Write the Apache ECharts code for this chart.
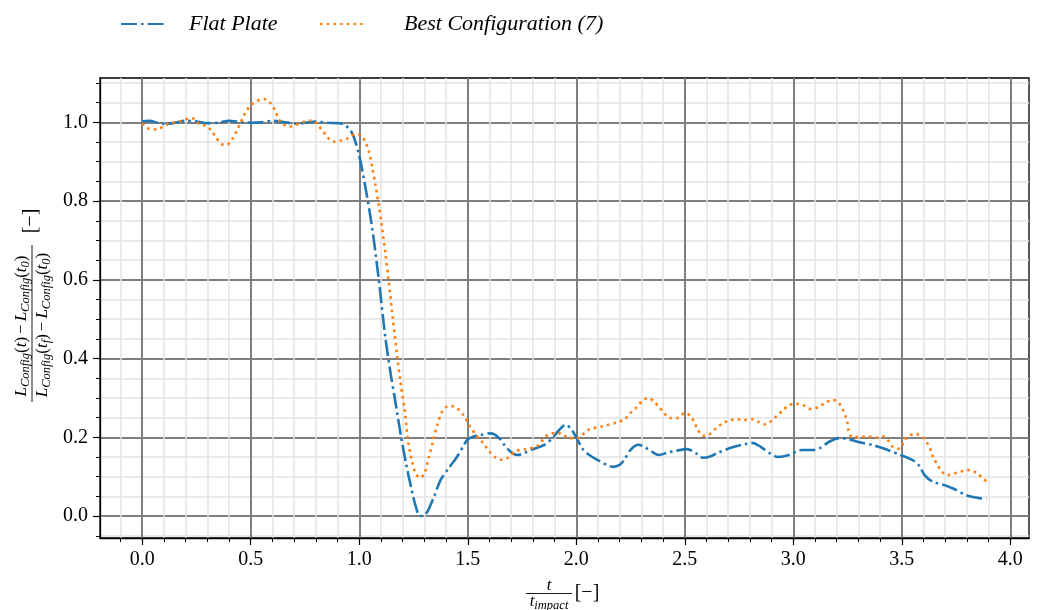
<!DOCTYPE html>
<html>
<head>
<meta charset="utf-8">
<script src="https://cdn.jsdelivr.net/npm/echarts@6/dist/echarts.min.js"></script>
<style>
  html, body { margin: 0; padding: 0; background: #fff; }
  #chart { width: 1037px; height: 610px; }
</style>
</head>
<body>
<div id="chart"></div>
<script>
// Normalised lift histories against non-dimensional time t / t_impact
const tFlat = [0.00, 0.035, 0.07, 0.11, 0.15, 0.20, 0.25, 0.30, 0.35, 0.40, 0.45, 0.50, 0.55, 0.60, 0.65, 0.70, 0.75, 0.80, 0.85, 0.90, 0.93, 0.95, 0.97, 1.00, 1.03, 1.06, 1.09, 1.12, 1.145, 1.165, 1.19, 1.215, 1.24, 1.26, 1.28, 1.30, 1.315, 1.345, 1.375, 1.41, 1.45, 1.48, 1.50, 1.53, 1.56, 1.60, 1.625, 1.65, 1.67, 1.70, 1.73, 1.76, 1.79, 1.85, 1.89, 1.92, 1.95, 1.975, 2.00, 2.03, 2.06, 2.10, 2.14, 2.17, 2.20, 2.22, 2.25, 2.285, 2.31, 2.35, 2.38, 2.42, 2.46, 2.51, 2.55, 2.585, 2.62, 2.65, 2.72, 2.78, 2.81, 2.85, 2.89, 2.93, 2.98, 3.04, 3.09, 3.12, 3.17, 3.214, 3.25, 3.30, 3.37, 3.43, 3.49, 3.55, 3.58, 3.605, 3.643, 3.70, 3.736, 3.797, 3.84, 3.866, 3.89];
const vFlat = [1.003, 1.004, 0.999, 0.996, 0.999, 1.004, 1.002, 0.998, 0.999, 1.004, 1.001, 0.999, 1.000, 1.004, 1.001, 0.997, 0.999, 1.002, 0.999, 0.998, 0.995, 0.985, 0.970, 0.915, 0.830, 0.730, 0.600, 0.455, 0.360, 0.295, 0.210, 0.135, 0.070, 0.025, 0.000, 0.003, 0.012, 0.050, 0.092, 0.120, 0.150, 0.178, 0.195, 0.203, 0.206, 0.210, 0.207, 0.195, 0.180, 0.162, 0.155, 0.160, 0.168, 0.180, 0.198, 0.218, 0.232, 0.222, 0.200, 0.170, 0.155, 0.142, 0.130, 0.125, 0.130, 0.142, 0.168, 0.181, 0.177, 0.163, 0.155, 0.161, 0.166, 0.170, 0.160, 0.148, 0.152, 0.160, 0.175, 0.183, 0.186, 0.176, 0.160, 0.150, 0.155, 0.168, 0.168, 0.172, 0.190, 0.198, 0.196, 0.188, 0.180, 0.169, 0.156, 0.142, 0.128, 0.104, 0.087, 0.078, 0.070, 0.053, 0.047, 0.045, 0.043];

const tBest = [0.00, 0.03, 0.07, 0.10, 0.14, 0.17, 0.21, 0.235, 0.26, 0.295, 0.32, 0.34, 0.365, 0.39, 0.415, 0.435, 0.45, 0.465, 0.48, 0.505, 0.535, 0.565, 0.595, 0.613, 0.628, 0.65, 0.68, 0.715, 0.75, 0.785, 0.81, 0.835, 0.855, 0.88, 0.915, 0.95, 0.98, 1.01, 1.03, 1.045, 1.06, 1.075, 1.09, 1.10, 1.12, 1.135, 1.155, 1.175, 1.19, 1.21, 1.225, 1.245, 1.26, 1.28, 1.30, 1.32, 1.34, 1.36, 1.38, 1.40, 1.42, 1.45, 1.48, 1.51, 1.535, 1.57, 1.60, 1.63, 1.66, 1.69, 1.72, 1.77, 1.82, 1.865, 1.90, 1.935, 1.965, 2.005, 2.055, 2.12, 2.19, 2.225, 2.25, 2.275, 2.30, 2.33, 2.36, 2.38, 2.405, 2.43, 2.465, 2.50, 2.525, 2.545, 2.56, 2.585, 2.61, 2.64, 2.67, 2.70, 2.74, 2.77, 2.81, 2.84, 2.87, 2.90, 2.925, 2.955, 2.98, 3.015, 3.045, 3.08, 3.115, 3.145, 3.18, 3.205, 3.225, 3.24, 3.25, 3.255, 3.27, 3.31, 3.345, 3.38, 3.415, 3.44, 3.46, 3.49, 3.51, 3.53, 3.56, 3.60, 3.62, 3.635, 3.645, 3.665, 3.68, 3.71, 3.745, 3.785, 3.815, 3.85, 3.875, 3.89];
const vBest = [0.997, 0.984, 0.982, 0.991, 0.999, 1.002, 1.009, 1.010, 0.997, 0.991, 0.978, 0.962, 0.945, 0.943, 0.958, 0.978, 0.996, 1.013, 1.029, 1.046, 1.056, 1.059, 1.046, 1.029, 1.009, 0.995, 0.989, 0.995, 1.002, 1.005, 0.992, 0.976, 0.961, 0.951, 0.954, 0.960, 0.970, 0.966, 0.948, 0.925, 0.885, 0.840, 0.790, 0.753, 0.670, 0.600, 0.500, 0.405, 0.340, 0.265, 0.190, 0.135, 0.108, 0.097, 0.108, 0.148, 0.190, 0.232, 0.263, 0.277, 0.280, 0.274, 0.257, 0.228, 0.208, 0.186, 0.164, 0.148, 0.143, 0.150, 0.165, 0.170, 0.178, 0.205, 0.211, 0.209, 0.198, 0.198, 0.219, 0.228, 0.238, 0.247, 0.262, 0.275, 0.290, 0.300, 0.290, 0.277, 0.262, 0.249, 0.249, 0.262, 0.255, 0.237, 0.219, 0.204, 0.206, 0.221, 0.234, 0.242, 0.246, 0.244, 0.246, 0.239, 0.233, 0.242, 0.255, 0.270, 0.282, 0.285, 0.282, 0.272, 0.277, 0.287, 0.295, 0.290, 0.274, 0.255, 0.235, 0.216, 0.201, 0.201, 0.202, 0.199, 0.202, 0.190, 0.175, 0.171, 0.189, 0.203, 0.209, 0.198, 0.183, 0.165, 0.148, 0.130, 0.115, 0.104, 0.109, 0.115, 0.117, 0.107, 0.095, 0.088];

// Tick positions
const xMajorTicks = [0.0, 0.5, 1.0, 1.5, 2.0, 2.5, 3.0, 3.5, 4.0];
const xMinorTicks = [-0.1, 0.1, 0.2, 0.3, 0.4, 0.6, 0.7, 0.8, 0.9, 1.1, 1.2, 1.3, 1.4, 1.6, 1.7, 1.8, 1.9, 2.1, 2.2, 2.3, 2.4, 2.6, 2.7, 2.8, 2.9, 3.1, 3.2, 3.3, 3.4, 3.6, 3.7, 3.8, 3.9];
const yMajorTicks = [0.0, 0.2, 0.4, 0.6, 0.8, 1.0];
const yMinorTicks = [-0.05, 0.05, 0.1, 0.15, 0.25, 0.3, 0.35, 0.45, 0.5, 0.55, 0.65, 0.7, 0.75, 0.85, 0.9, 0.95, 1.05, 1.1];

// Axis ranges (data span plus 5 % margins)
const xRange = [-0.1946, 4.086];
const yRange = [-0.0557, 1.1127];

const seriesNames = ['Flat Plate', 'Best Configuration (7)'];
const seriesColors = ['#1f77b4', '#ff7f0e'];

const SERIF = '"Liberation Serif", "DejaVu Serif", serif';

function pairs(ts, vs) { return ts.map((t, i) => [t, vs[i]]); }

const chart = echarts.init(document.getElementById('chart'), null, { renderer: 'canvas' });

const majorAxisCommon = {
  type: 'value',
  axisLine: { show: true, onZero: false, lineStyle: { color: '#000', width: 1.3 } },
  axisTick: { show: true, length: 7, lineStyle: { color: '#000', width: 1.2 } },
  axisLabel: { color: '#000', fontFamily: SERIF, fontSize: 20, formatter: v => v.toFixed(1) },
  splitLine: { show: true, lineStyle: { color: '#7f7f7f', width: 2 } },
  minorTick: { show: false },
  minorSplitLine: { show: false }
};
const minorAxisCommon = {
  type: 'value',
  axisLine: { show: false, onZero: false },
  axisTick: { show: true, length: 4, lineStyle: { color: '#000', width: 1 } },
  axisLabel: { show: false },
  splitLine: { show: true, lineStyle: { color: '#e3e3e3', width: 1.5 } },
  minorTick: { show: false },
  minorSplitLine: { show: false }
};

const richY = {
  m: { fontFamily: SERIF, fontStyle: 'italic', fontSize: 17, lineHeight: 21, fill: '#000' },
  u: { fontFamily: SERIF, fontSize: 17, lineHeight: 21, fill: '#000' },
  op: { fontFamily: SERIF, fontSize: 17, lineHeight: 21, fill: '#000', padding: [0, 3, 0, 3] },
  s: { fontFamily: SERIF, fontStyle: 'italic', fontSize: 12.5, lineHeight: 13, verticalAlign: 'bottom', fill: '#000' }
};

const legendText = { fontFamily: SERIF, fontStyle: 'italic', fontSize: 22, color: '#000' };

chart.setOption({
  animation: false,
  backgroundColor: '#fff',
  grid: { left: 100, right: 8, top: 78, bottom: 72, show: true, borderColor: '#000', borderWidth: 1.3, containLabel: false },
  legend: [
    {
      data: [seriesNames[0]], left: 120, top: 13, padding: 0, itemWidth: 43, itemHeight: 16,
      itemStyle: { opacity: 0 },
      textStyle: Object.assign({ padding: [0, 0, 0, 20] }, legendText)
    },
    {
      data: [seriesNames[1]], left: 319, top: 13, padding: 0, itemWidth: 43, itemHeight: 16,
      itemStyle: { opacity: 0 },
      textStyle: Object.assign({ padding: [0, 0, 0, 36] }, legendText)
    }
  ],
  xAxis: [
    Object.assign({}, majorAxisCommon, {
      min: xRange[0], max: xRange[1], position: 'bottom',
      axisTick: Object.assign({}, majorAxisCommon.axisTick, { customValues: xMajorTicks }),
      axisLabel: Object.assign({}, majorAxisCommon.axisLabel, { customValues: xMajorTicks, margin: 12 })
    }),
    Object.assign({}, minorAxisCommon, {
      min: xRange[0], max: xRange[1], position: 'bottom',
      axisTick: Object.assign({}, minorAxisCommon.axisTick, { customValues: xMinorTicks })
    })
  ],
  yAxis: [
    Object.assign({}, majorAxisCommon, {
      min: yRange[0], max: yRange[1], position: 'left',
      axisTick: Object.assign({}, majorAxisCommon.axisTick, { customValues: yMajorTicks }),
      axisLabel: Object.assign({}, majorAxisCommon.axisLabel, { customValues: yMajorTicks, margin: 12 })
    }),
    Object.assign({}, minorAxisCommon, {
      min: yRange[0], max: yRange[1], position: 'left',
      axisTick: Object.assign({}, minorAxisCommon.axisTick, { customValues: yMinorTicks })
    })
  ],
  series: [
    {
      name: seriesNames[0], type: 'line', xAxisIndex: 0, yAxisIndex: 0,
      data: pairs(tFlat, vFlat), showSymbol: false, symbol: 'none', smooth: 0.3, z: 3,
      itemStyle: { color: seriesColors[0] },
      lineStyle: { color: seriesColors[0], width: 2.6, type: [16, 4, 2.6, 4], cap: 'butt' }
    },
    {
      name: seriesNames[1], type: 'line', xAxisIndex: 0, yAxisIndex: 0,
      data: pairs(tBest, vBest), showSymbol: false, symbol: 'none', smooth: 0.3, z: 4,
      itemStyle: { color: seriesColors[1] },
      lineStyle: { color: seriesColors[1], width: 2.6, type: [2.6, 4.1], cap: 'butt' }
    }
  ],
  graphic: [
    // y-axis title: fraction of lift differences, written bottom to top
    {
      type: 'group', x: 32, y: 305, rotation: Math.PI / 2, silent: true,
      children: [
        {
          type: 'text', x: -21, y: -10,
          style: {
            text: '{m|L}{s|Config}{u|(}{m|t}{u|)}{op|−}{m|L}{s|Config}{u|(}{m|t}{s|0}{u|)}',
            rich: richY, align: 'center', verticalAlign: 'middle'
          }
        },
        { type: 'line', shape: { x1: -97, y1: 0, x2: 60, y2: 0 }, style: { stroke: '#000', lineWidth: 0.9 } },
        {
          type: 'text', x: -20, y: 11,
          style: {
            text: '{m|L}{s|Config}{u|(}{m|t}{s|f}{u|)}{op|−}{m|L}{s|Config}{u|(}{m|t}{s|0}{u|)}',
            rich: richY, align: 'center', verticalAlign: 'middle'
          }
        },
        {
          type: 'text', x: 84, y: -1,
          style: { text: '[−]', fontFamily: SERIF, fontSize: 20, fill: '#000', align: 'center', verticalAlign: 'middle' }
        }
      ]
    },
    // x-axis title: t / t_impact [−]
    {
      type: 'text', x: 549, y: 586, silent: true,
      style: { text: 't', fontFamily: SERIF, fontStyle: 'italic', fontSize: 17, fill: '#000', align: 'center', verticalAlign: 'middle' }
    },
    { type: 'line', silent: true, shape: { x1: 526, y1: 593.5, x2: 572, y2: 593.5 }, style: { stroke: '#000', lineWidth: 0.9 } },
    {
      type: 'text', x: 549, y: 602, silent: true,
      style: {
        text: '{m|t}{s|impact}', rich: richY, align: 'center', verticalAlign: 'middle'
      }
    },
    {
      type: 'text', x: 587, y: 593, silent: true,
      style: { text: '[−]', fontFamily: SERIF, fontSize: 20, fill: '#000', align: 'center', verticalAlign: 'middle' }
    }
  ]
});
</script>
</body>
</html>
